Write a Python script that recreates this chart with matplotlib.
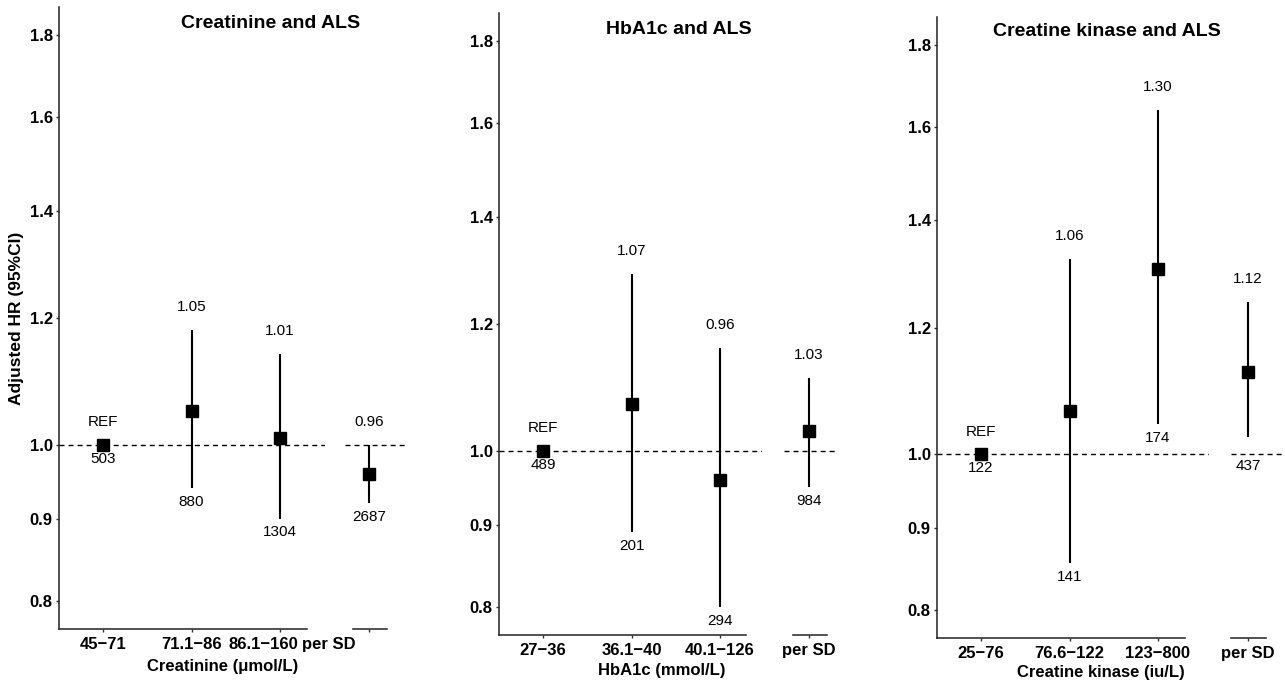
import matplotlib

matplotlib.use("Agg")
import matplotlib.pyplot as plt
import matplotlib.transforms as mtransforms
import numpy as np

plt.rcParams.update({"font.family": ["Liberation Sans", "DejaVu Sans"], "font.size": 10})

W, H = 1285, 681
MINUS = "\u2212"

# ---- data -------------------------------------------------------------
creat_groups = ["45" + MINUS + "71", "71.1" + MINUS + "86", "86.1" + MINUS + "160"]
creat_hr = [1.00, 1.05, 1.01]
creat_lo = [1.00, 0.94, 0.90]
creat_hi = [1.00, 1.18, 1.14]
creat_lab = ["REF", "1.05", "1.01"]
creat_n = [503, 880, 1304]
creat_sd = [0.96, 0.92, 1.00]  # hr, lo, hi
creat_sd_lab, creat_sd_n = "0.96", 2687

hba_groups = ["27" + MINUS + "36", "36.1" + MINUS + "40", "40.1" + MINUS + "126"]
hba_hr = [1.00, 1.07, 0.96]
hba_lo = [1.00, 0.89, 0.80]
hba_hi = [1.00, 1.29, 1.16]
hba_lab = ["REF", "1.07", "0.96"]
hba_n = [489, 201, 294]
hba_sd = [1.03, 0.95, 1.11]
hba_sd_lab, hba_sd_n = "1.03", 984

ck_groups = ["25" + MINUS + "76", "76.6" + MINUS + "122", "123" + MINUS + "800"]
ck_hr = [1.00, 1.065, 1.305]
ck_lo = [1.00, 0.855, 1.045]
ck_hi = [1.00, 1.325, 1.64]
ck_lab = ["REF", "1.06", "1.30"]
ck_n = [122, 141, 174]
ck_sd = [1.125, 1.025, 1.245]
ck_sd_lab, ck_sd_n = "1.12", 437

yticks = [0.8, 0.9, 1.0, 1.2, 1.4, 1.6, 1.8]

# ---- layout (pixels) --------------------------------------------------
panels = [
    dict(title="Creatinine and ALS", xlabel="Creatinine (\u03bcmol/L)",
         groups=creat_groups, hr=creat_hr, lo=creat_lo, hi=creat_hi, lab=creat_lab, n=creat_n,
         sd=creat_sd, sd_lab=creat_sd_lab, sd_n=creat_sd_n,
         left=59, cat1=103, main_right=325, spine_right=307,
         sd_left=345, sd_tick=369, sd_right=405, sd_spine=(353, 387),
         top=7, bottom=629, title_xy=(271, 23), xlabel_xy=(223, 666),
         tick_dx=[0, 0, -17], sd_tick_dx=-40, sd_n_dy=0, ylabel=True),
    dict(title="HbA1c and ALS", xlabel="HbA1c (mmol/L)",
         groups=hba_groups, hr=hba_hr, lo=hba_lo, hi=hba_hi, lab=hba_lab, n=hba_n,
         sd=hba_sd, sd_lab=hba_sd_lab, sd_n=hba_sd_n,
         left=499, cat1=543, main_right=762, spine_right=746,
         sd_left=784, sd_tick=809, sd_right=835, sd_spine=(793, 827),
         top=13, bottom=635, title_xy=(679, 29), xlabel_xy=(662, 670),
         tick_dx=[0, 0, 0], sd_tick_dx=0, sd_n_dy=0, ylabel=False),
    dict(title="Creatine kinase and ALS", xlabel="Creatine kinase (iu/L)",
         groups=ck_groups, hr=ck_hr, lo=ck_lo, hi=ck_hi, lab=ck_lab, n=ck_n,
         sd=ck_sd, sd_lab=ck_sd_lab, sd_n=ck_sd_n,
         left=937, cat1=981, main_right=1209, spine_right=1185,
         sd_left=1231, sd_tick=1248, sd_right=1283, sd_spine=(1231, 1266),
         top=17, bottom=638, title_xy=(1107, 32), xlabel_xy=(1101, 672),
         tick_dx=[0, 0, 0], sd_tick_dx=0, sd_n_dy=-11, ylabel=False),
]
UNIT = 88.5  # px between categories

span = np.log(1.8 / 0.8)
ylim = (0.8 * np.exp(-0.05 * span), 1.8 * np.exp(0.05 * span))

fig = plt.figure(figsize=(W / 100, H / 100), dpi=100)


def px_axes(l, r, t, b):
    return fig.add_axes([l / W, 1 - b / H, (r - l) / W, (b - t) / H])


def style_axes(ax):
    ax.set_yscale("log")
    ax.set_ylim(*ylim)
    ax.yaxis.set_major_locator(matplotlib.ticker.FixedLocator(yticks))
    ax.yaxis.set_minor_locator(matplotlib.ticker.NullLocator())
    ax.yaxis.set_major_formatter(matplotlib.ticker.FixedFormatter([f"{v:.1f}" for v in yticks]))
    ax.spines[["top", "right"]].set_visible(False)
    for s in ("left", "bottom"):
        ax.spines[s].set_linewidth(1.1)
        ax.spines[s].set_color("#222222")
    ax.tick_params(length=2.5, width=1, color="#333333", labelsize=12)
    ax.tick_params(axis="x", pad=3)
    ax.tick_params(axis="y", pad=2)
    for lbl in ax.get_yticklabels():
        lbl.set_fontweight("bold")
    ax.set_facecolor("none")


def shift_label(tick, dx_px):
    tick.label1.set_transform(
        tick.label1.get_transform()
        + mtransforms.ScaledTranslation(dx_px / 100, 0, fig.dpi_scale_trans))


def draw_points(ax, xs, hr, lo, hi, labs, ns, n_dy):
    ax.vlines(xs, lo, hi, color="black", lw=1.5)
    ax.plot(xs, hr, ls="none", marker="s", ms=8, color="black")
    for x, h, lab in zip(xs, hi, labs):
        ax.annotate(lab, xy=(x, h), xytext=(0, 16.5), textcoords="offset points",
                    ha="center", va="center", fontsize=11)
    for x, l, n, dy in zip(xs, lo, ns, n_dy):
        ax.annotate(str(n), xy=(x, l), xytext=(0, -10 + dy), textcoords="offset points",
                    ha="center", va="center", fontsize=11)


def to_x(px, p):
    return 1 + (px - p["cat1"]) / UNIT


def to_sd(px, p):
    return 1 + (px - p["sd_tick"]) / UNIT


for p in panels:
    # main category axes
    ax = px_axes(p["left"], p["main_right"], p["top"], p["bottom"])
    style_axes(ax)
    xs = np.arange(1, len(p["groups"]) + 1)
    ax.set_xlim(to_x(p["left"], p), to_x(p["main_right"], p))
    ax.spines["bottom"].set_bounds(to_x(p["left"], p), to_x(p["spine_right"], p))
    ax.axhline(1.0, color="black", lw=1, ls=(0, (3.6, 2.9)))
    ax.set_xticks(xs, p["groups"])
    for t, dx in zip(ax.xaxis.get_major_ticks(), p["tick_dx"]):
        t.label1.set_fontweight("bold")
        if dx:
            shift_label(t, dx)
    draw_points(ax, xs, p["hr"], p["lo"], p["hi"], p["lab"], p["n"], [0, 0, 0])

    # per SD axes
    sx = px_axes(p["sd_left"], p["sd_right"], p["top"], p["bottom"])
    style_axes(sx)
    sx.spines["left"].set_visible(False)
    sx.set_yticks([])
    sx.set_xlim(to_sd(p["sd_left"], p), to_sd(p["sd_right"], p))
    sx.spines["bottom"].set_bounds(to_sd(p["sd_spine"][0], p), to_sd(p["sd_spine"][1], p))
    sx.axhline(1.0, color="black", lw=1, ls=(0, (3.6, 2.9)))
    sx.set_xticks([1], ["per SD"])
    t = sx.xaxis.get_major_ticks()[0]
    t.label1.set_fontweight("bold")
    if p["sd_tick_dx"]:
        shift_label(t, p["sd_tick_dx"])
    hr_sd, lo_sd, hi_sd = p["sd"]
    draw_points(sx, [1], [hr_sd], [lo_sd], [hi_sd], [p["sd_lab"]], [p["sd_n"]], [p["sd_n_dy"]])

    fig.text(p["title_xy"][0] / W, 1 - p["title_xy"][1] / H, p["title"],
             ha="center", va="center", fontsize=14, fontweight="bold")
    fig.text(p["xlabel_xy"][0] / W, 1 - p["xlabel_xy"][1] / H, p["xlabel"],
             ha="center", va="center", fontsize=12, fontweight="bold")
    if p["ylabel"]:
        fig.text(17 / W, 1 - 318 / H, "Adjusted HR (95%CI)", rotation=90,
                 ha="center", va="center", fontsize=12.5, fontweight="bold")

fig.savefig("out.png", dpi=100, facecolor="white")
